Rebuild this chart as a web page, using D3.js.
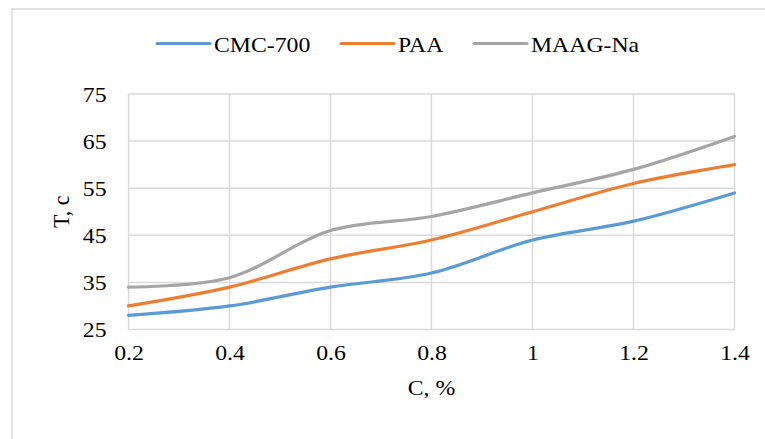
<!DOCTYPE html>
<html><head><meta charset="utf-8">
<script src="https://cdn.jsdelivr.net/npm/d3@7"></script>
<style>
html,body{margin:0;padding:0;background:#fff;}
svg{display:block;}
svg text{font-family:"Liberation Serif","Times New Roman",Times,Tinos,"DejaVu Serif",serif !important;fill:#000;}
</style></head>
<body>
<svg id="chart" width="765" height="439"></svg>
<script>
const xValues = [0.2, 0.4, 0.6, 0.8, 1.0, 1.2, 1.4];
const cmc700 = [28, 30, 34, 37, 44, 48, 54];
const paa = [30, 34, 40, 44, 50, 56, 60];
const maagNa = [34, 36, 46, 49, 54, 59, 66];
const seriesNames = ["CMC-700", "PAA", "MAAG-Na"];
const seriesColors = ["#5B9BD5", "#ED7D31", "#A5A5A5"];
const yTicks = [25, 35, 45, 55, 65, 75];
const xTickLabels = ["0.2", "0.4", "0.6", "0.8", "1", "1.2", "1.4"];

(function () {
const svg = d3.select("#chart");
const W = 765, H = 439;
const pLeft = 128.5, pRight = 734.5, pTop = 94, pBottom = 329.5;
const FS = 22, SX = 1.08;

svg.append("rect").attr("x", 12).attr("y", 9).attr("width", W + 20).attr("height", H + 20)
  .attr("fill", "#fff").attr("stroke", "#d9d9d9").attr("stroke-width", 1.5);

const x = d3.scaleLinear().domain([0.2, 1.4]).range([pLeft, pRight]);
const y = d3.scaleLinear().domain([25, 75]).range([pBottom, pTop]);

const grid = svg.append("g");
grid.selectAll("line.h").data(yTicks).enter().append("line")
  .attr("x1", pLeft).attr("x2", pRight).attr("y1", d => y(d)).attr("y2", d => y(d))
  .attr("stroke", "#d9d9d9").attr("stroke-width", 1.5);
grid.selectAll("line.v").data(xValues).enter().append("line")
  .attr("y1", pTop).attr("y2", pBottom).attr("x1", d => x(d)).attr("x2", d => x(d))
  .attr("stroke", "#d9d9d9").attr("stroke-width", 1.5);

const yAxis = d3.axisLeft(y).tickValues(yTicks).tickSize(0).tickPadding(22);
const gy = svg.append("g").attr("transform", `translate(${pLeft},0)`).call(yAxis);
gy.select(".domain").remove();
gy.attr("font-family", null).attr("font-size", null);
gy.selectAll("text").attr("font-size", FS).attr("x", -22 / SX).attr("transform", `scale(${SX},1)`);

const xAxis = d3.axisBottom(x).tickValues(xValues).tickSize(0).tickPadding(15)
  .tickFormat((d, i) => xTickLabels[i]);
const gx = svg.append("g").attr("transform", `translate(0,${pBottom})`).call(xAxis);
gx.select(".domain").remove();
gx.attr("font-family", null).attr("font-size", null);
gx.selectAll("text").attr("font-size", FS).attr("transform", `scale(${SX},1)`);

const allSeries = [cmc700, paa, maagNa];
const line = d3.line().x((d, i) => x(xValues[i])).y(d => y(d)).curve(d3.curveCatmullRom.alpha(0.5));
allSeries.forEach((s, k) => {
  svg.append("path").datum(s).attr("d", line).attr("fill", "none")
    .attr("stroke", seriesColors[k]).attr("stroke-width", 3.2).attr("stroke-linecap", "round");
});

svg.append("text").attr("transform", `translate(${(pLeft + pRight) / 2},395) scale(${SX},1)`)
  .attr("text-anchor", "middle").attr("font-size", FS).text("C, %");
svg.append("text").attr("transform", `translate(69,${(pTop + pBottom) / 2}) rotate(-90) scale(1,${SX})`)
  .attr("text-anchor", "middle").attr("font-size", FS).text("T, c");

const legendX = [157, 341, 474];
const lg = svg.append("g");
seriesNames.forEach((n, k) => {
  lg.append("line").attr("x1", legendX[k]).attr("x2", legendX[k] + 53).attr("y1", 43.5).attr("y2", 43.5)
    .attr("stroke", seriesColors[k]).attr("stroke-width", 3.2).attr("stroke-linecap", "round");
  lg.append("text").attr("transform", `translate(${legendX[k] + 57},51.5) scale(${SX},1)`)
    .attr("font-size", FS).text(n);
});
})();
</script>
</body></html>
